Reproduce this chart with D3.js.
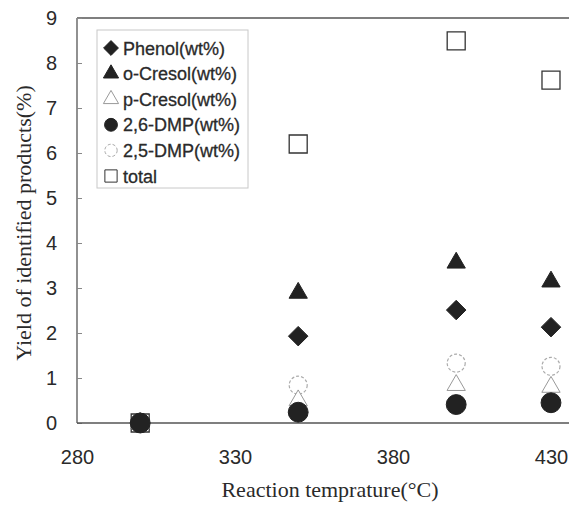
<!DOCTYPE html>
<html>
<head>
<meta charset="utf-8">
<script src="https://cdn.jsdelivr.net/npm/d3@7"></script>
<style>
  body { margin: 0; background: #fff; }
  svg { display: block; }
</style>
</head>
<body>
<div id="chart"></div>
<script>
// data
var temps = [300, 350, 400, 430];
var phenol = [0, 1.93, 2.51, 2.13];
var oCresol = [0, 2.89, 3.56, 3.14];
var pCresol = [0, 0.5, 0.84, 0.8];
var dmp26 = [0, 0.24, 0.41, 0.45];
var dmp25 = [0, 0.84, 1.33, 1.26];
var total = [0, 6.2, 8.49, 7.62];
var xTicks = [280, 330, 380, 430];
var yTicks = [0, 1, 2, 3, 4, 5, 6, 7, 8, 9];

var width = 569, height = 505;
var sans = "Liberation Sans, Arial, sans-serif",
    serif = "Liberation Serif, Times New Roman, serif";

var x = d3.scaleLinear().domain([280, 435.7]).range([77, 569]);
var y = d3.scaleLinear().domain([0, 9]).range([423, 18]);

var svg = d3.select("#chart").append("svg")
  .attr("width", width)
  .attr("height", height);

// diamond = square turned 45 degrees
var diamond = {
  draw: function(ctx, size) {
    var r = Math.sqrt(size / 2);
    ctx.moveTo(0, -r); ctx.lineTo(r, 0); ctx.lineTo(0, r); ctx.lineTo(-r, 0); ctx.closePath();
  }
};

// series, drawn in this order (total underneath)
var series = [
  { name: "total", values: total, sym: d3.symbolSquare, size: 324, lsize: 150, fill: "#fff", stroke: "#333", sw: 1.3, dash: null },
  { name: "Phenol(wt%)", values: phenol, sym: diamond, size: 190, lsize: 110, fill: "#222", stroke: "#222", sw: 1, dash: null },
  { name: "o-Cresol(wt%)", values: oCresol, sym: d3.symbolTriangle, size: 145, lsize: 100, fill: "#222", stroke: "#222", sw: 1, dash: null },
  { name: "2,5-DMP(wt%)", values: dmp25, sym: d3.symbolCircle, size: 254, lsize: 120, fill: "#fff", stroke: "#aaa", sw: 1.2, dash: "3,2" },
  { name: "p-Cresol(wt%)", values: pCresol, sym: d3.symbolTriangle, size: 145, lsize: 100, fill: "#fff", stroke: "#999", sw: 1, dash: null },
  { name: "2,6-DMP(wt%)", values: dmp26, sym: d3.symbolCircle, size: 310, lsize: 130, fill: "#222", stroke: "#222", sw: 1, dash: null }
];

// frame: left axis and top border
svg.append("line")
  .attr("x1", x(280)).attr("x2", x(280))
  .attr("y1", y(9)).attr("y2", y(0))
  .attr("stroke", "#555").attr("stroke-width", 1.3);
svg.append("line")
  .attr("x1", x(280)).attr("x2", width)
  .attr("y1", y(9)).attr("y2", y(9))
  .attr("stroke", "#555").attr("stroke-width", 1.3);

// y axis ticks inside, labels outside
var gy = svg.append("g")
  .attr("transform", "translate(" + x(280) + ",0)")
  .call(d3.axisLeft(y).tickValues(yTicks).tickSize(-5).tickPadding(20));
gy.select(".domain").remove();
gy.selectAll(".tick line").attr("stroke", "#888");
gy.selectAll("text")
  .attr("font-family", sans)
  .attr("font-size", 20)
  .attr("fill", "#2a2a2a");

// x axis
var gx = svg.append("g")
  .attr("transform", "translate(0," + y(0) + ")")
  .call(d3.axisBottom(x).tickValues(xTicks).tickSize(0).tickPadding(27));
gx.select(".domain").remove();
gx.selectAll("text")
  .attr("font-family", sans)
  .attr("font-size", 20)
  .attr("fill", "#2a2a2a");
svg.append("line")
  .attr("x1", x(280)).attr("x2", width)
  .attr("y1", y(0)).attr("y2", y(0))
  .attr("stroke", "#555").attr("stroke-width", 1.3);

// points
series.forEach(function(s) {
  svg.append("g").selectAll("path")
    .data(temps.map(function(t, i) { return [t, s.values[i]]; }))
    .enter().append("path")
    .attr("transform", function(d) { return "translate(" + x(d[0]) + "," + y(d[1]) + ")"; })
    .attr("d", d3.symbol().type(s.sym).size(s.size))
    .attr("fill", s.fill)
    .attr("stroke", s.stroke)
    .attr("stroke-width", s.sw)
    .attr("stroke-dasharray", s.dash);
});

// axis titles
svg.append("text")
  .attr("x", 330).attr("y", 497)
  .attr("text-anchor", "middle")
  .attr("font-family", serif)
  .attr("font-size", 22)
  .attr("fill", "#2a2a2a")
  .text("Reaction temprature(\u00b0C)");

svg.append("text")
  .attr("transform", "translate(31,223) rotate(-90)")
  .attr("text-anchor", "middle")
  .attr("font-family", serif)
  .attr("font-size", 22)
  .attr("fill", "#2a2a2a")
  .text("Yield of identified products(%)");

// legend
var legendOrder = ["Phenol(wt%)", "o-Cresol(wt%)", "p-Cresol(wt%)", "2,6-DMP(wt%)", "2,5-DMP(wt%)", "total"];
var lg = svg.append("g");
lg.append("rect")
  .attr("x", 97).attr("y", 30)
  .attr("width", 151).attr("height", 158)
  .attr("fill", "#fff")
  .attr("stroke", "#c8c8c8")
  .attr("stroke-width", 1);

var items = lg.selectAll("g.item")
  .data(legendOrder.map(function(n) { return series.filter(function(s) { return s.name === n; })[0]; }))
  .enter().append("g")
  .attr("class", "item")
  .attr("transform", function(d, i) { return "translate(111," + (48 + i * 25.6) + ")"; });

items.append("path")
  .attr("d", function(d) { return d3.symbol().type(d.sym).size(d.lsize)(); })
  .attr("fill", function(d) { return d.fill; })
  .attr("stroke", function(d) { return d.stroke; })
  .attr("stroke-width", 1)
  .attr("stroke-dasharray", function(d) { return d.dash; });

items.append("text")
  .attr("x", 12).attr("y", 6.5)
  .attr("font-family", sans)
  .attr("font-size", 18)
  .attr("fill", "#2a2a2a")
  .attr("stroke", "#2a2a2a")
  .attr("stroke-width", 0.3)
  .text(function(d) { return d.name; });
</script>
</body>
</html>
